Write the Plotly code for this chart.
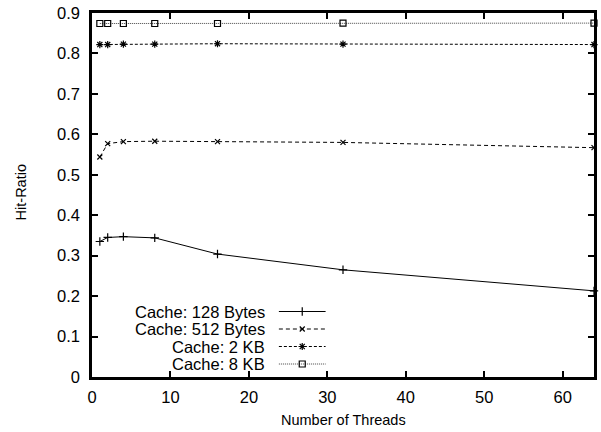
import plotly.graph_objects as go

threads = [1, 2, 4, 8, 16, 32, 64]
hit_128b = [0.335, 0.345, 0.347, 0.344, 0.304, 0.265, 0.213]
hit_512b = [0.544, 0.577, 0.582, 0.583, 0.582, 0.580, 0.567]
hit_2kb = [0.822, 0.822, 0.823, 0.823, 0.824, 0.823, 0.822]
hit_8kb = [0.874, 0.874, 0.874, 0.874, 0.874, 0.875, 0.875]
series_names = ["Cache: 128 Bytes", "Cache: 512 Bytes", "Cache: 2 KB", "Cache: 8 KB"]
x_ticks = [0, 10, 20, 30, 40, 50, 60]
y_ticks = [0, 0.1, 0.2, 0.3, 0.4, 0.5, 0.6, 0.7, 0.8, 0.9]
x_title = "Number of Threads"
y_title = "Hit-Ratio"

styles = [
    dict(dash="solid", symbol="cross-thin-open", size=6, color="black"),
    dict(dash="4px,3px", symbol="x-thin-open", size=5, color="black"),
    dict(dash="3px,2px", symbol="asterisk-open", size=6, color="black"),
    dict(dash="1px,1px", symbol="square-open", size=6, color="#444"),
]
data = [hit_128b, hit_512b, hit_2kb, hit_8kb]
FONT = "Liberation Sans, Arial, Helvetica, sans-serif"
TICK_SIZE = 16.5
KEY_SIZE = 16.5
TITLE_SIZE = 14.5

fig = go.Figure()
for name, ys, st in zip(series_names, data, styles):
    fig.add_trace(go.Scatter(
        x=threads, y=ys, mode="lines+markers", name=name, showlegend=False,
        line=dict(color=st["color"], width=1, dash=st["dash"]),
        marker=dict(symbol=st["symbol"], size=st["size"], color="black",
                    line=dict(color="black", width=1.2)),
        cliponaxis=False,
    ))

# gnuplot-style key: text right-aligned, sample line to the right
key_right = 268
sample_x0, sample_x1 = 280, 327
row_y = [311.5, 329, 346.5, 364]
W, H = 601, 432
ml, mr, mt, mb = 92, 4, 13, 55
pw, ph = W - ml - mr, H - mt - mb

def px(x):
    return (x - ml) / pw

def py(y):
    return 1 - (y - mt) / ph

for i, (name, st) in enumerate(zip(series_names, styles)):
    fig.add_annotation(x=px(key_right), y=py(row_y[i]), xref="paper", yref="paper",
                       text=name, showarrow=False, xanchor="right", yanchor="middle",
                       font=dict(family=FONT, size=KEY_SIZE, color="black"))
    fig.add_trace(go.Scatter(
        x=[px(sample_x0), px((sample_x0 + sample_x1) / 2), px(sample_x1)],
        y=[py(row_y[i])] * 3, xaxis="x2", yaxis="y2", mode="lines",
        line=dict(color=st["color"], width=1, dash=st["dash"]), showlegend=False,
        hoverinfo="skip", cliponaxis=False,
    ))
    fig.add_trace(go.Scatter(
        x=[px((sample_x0 + sample_x1) / 2)], y=[py(row_y[i])], xaxis="x2", yaxis="y2",
        mode="markers",
        marker=dict(symbol=st["symbol"], size=st["size"], color="black",
                    line=dict(color="black", width=1.2)),
        showlegend=False, hoverinfo="skip", cliponaxis=False,
    ))

# axis titles
fig.add_annotation(x=px((ml + W - mr) / 2), y=py(420), xref="paper", yref="paper",
                   text=x_title, showarrow=False, xanchor="center", yanchor="middle",
                   font=dict(family=FONT, size=TITLE_SIZE, color="black"))
fig.add_annotation(x=px(21), y=py(192), xref="paper", yref="paper",
                   text=y_title, showarrow=False, textangle=-90,
                   xanchor="center", yanchor="middle",
                   font=dict(family=FONT, size=TITLE_SIZE, color="black"))

axis_common = dict(
    showgrid=False, zeroline=False, showline=True, linecolor="black", linewidth=2.5,
    mirror="allticks", ticks="inside", ticklen=6, tickwidth=2, tickcolor="black",
    tickfont=dict(family=FONT, size=TICK_SIZE, color="black"),
)

fig.update_layout(
    width=W, height=H,
    margin=dict(l=ml, r=mr, t=mt, b=mb),
    plot_bgcolor="white", paper_bgcolor="white",
    font=dict(family=FONT, size=13, color="black"),
    xaxis=dict(range=[0, 64], tickvals=x_ticks, ticktext=[str(v) for v in x_ticks],
               ticklabelstandoff=3, **axis_common),
    yaxis=dict(range=[0, 0.9], tickvals=y_ticks, ticktext=[f"{v:g}" for v in y_ticks],
               ticklabelstandoff=6, **axis_common),
    xaxis2=dict(range=[0, 1], overlaying="x", visible=False, fixedrange=True),
    yaxis2=dict(range=[0, 1], overlaying="y", visible=False, fixedrange=True),
)

fig.write_html("out.html")
